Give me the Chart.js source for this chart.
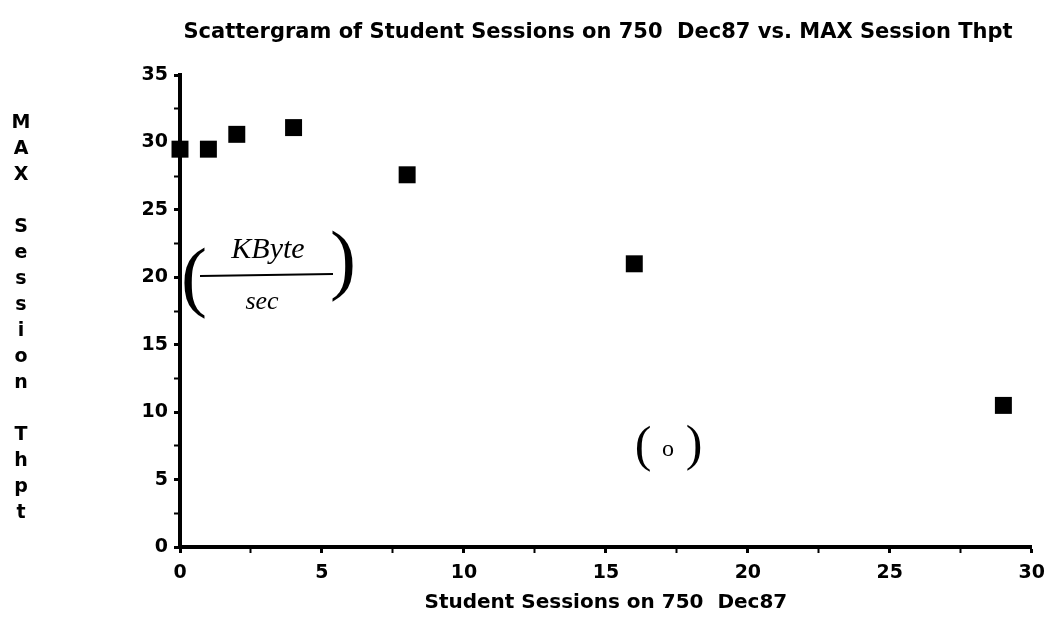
<!DOCTYPE html>
<html>
<head>
<meta charset="utf-8">
<script src="https://cdn.jsdelivr.net/npm/chart.js"></script>
<style>
  html, body { margin: 0; padding: 0; background: #fff; }
  #wrap { width: 1054px; height: 619px; position: relative; }
</style>
</head>
<body>
<div id="wrap"><canvas id="chartScatter"></canvas></div>
<script>
// ===== dados
const sessions = [0, 1, 2, 4, 8, 16, 29];                 // Student Sessions on 750 Dec87
const thpt     = [29.5, 29.5, 30.6, 31.1, 27.6, 21.0, 10.5]; // MAX Session Thpt (KByte/sec)
const xRange   = [0, 30];
const yRange   = [0, 35];

const titleText  = 'Scattergram of Student Sessions on 750  Dec87 vs. MAX Session Thpt';
const xTitleText = 'Student Sessions on 750  Dec87';
const yTitleText = 'MAX Session Thpt';

const FONT = '"DejaVu Sans", sans-serif';

// textos desenhados à mão / título fora do layout padrão
const paperText = {
  id: 'paperText',
  afterDraw(chart) {
    const c = chart.ctx;
    c.save();
    c.fillStyle = '#000';
    c.strokeStyle = '#000';
    c.textAlign = 'center';
    c.textBaseline = 'middle';

    c.font = 'bold 21px ' + FONT;
    c.fillText(titleText, 598, 33);

    // título do eixo y, uma letra por linha
    c.font = 'bold 19px ' + FONT;
    yTitleText.split('').forEach((ch, i) => c.fillText(ch, 21, 123 + i * 26));

    // anotação manuscrita (KByte / sec)
    c.font = 'italic 30px "Liberation Serif", serif';
    c.fillText('KByte', 268, 250);
    c.font = 'italic 26px "Liberation Serif", serif';
    c.fillText('sec', 262, 302);
    c.lineWidth = 2;
    c.beginPath();
    c.moveTo(200, 276);
    c.lineTo(333, 274);
    c.stroke();
    c.font = '78px "Liberation Serif", serif';
    c.fillText('(', 194, 282);
    c.fillText(')', 343, 265);

    // anotação (o)
    c.font = '50px "Liberation Serif", serif';
    c.fillText('(', 643, 448);
    c.fillText(')', 694, 447);
    c.font = '24px "Liberation Serif", serif';
    c.fillText('o', 668, 450);

    c.restore();
  }
};

const tickFont = { family: FONT, size: 19, weight: 'bold', lineHeight: 1.2 };
const tickWidth = (ctx) => (ctx.tick && ctx.tick.value % 5 === 0 ? 3 : 2);
const majorOnly = (v) => (v % 5 === 0 ? v : '');

new Chart(document.getElementById('chartScatter'), {
  type: 'scatter',
  data: {
    datasets: [{
      data: sessions.map((x, i) => ({ x, y: thpt[i] })),
      pointStyle: 'rect',
      radius: 12,
      hoverRadius: 12,
      backgroundColor: '#000',
      borderColor: '#000',
      borderWidth: 0,
      clip: false
    }]
  },
  options: {
    responsive: true,
    maintainAspectRatio: false,
    animation: false,
    layout: { padding: { top: 75, left: 142, right: 22, bottom: 4 } },
    plugins: {
      legend: { display: false },
      tooltip: { enabled: false }
    },
    scales: {
      x: {
        type: 'linear',
        min: xRange[0],
        max: xRange[1],
        afterFit(scale) { scale.height = 68; },
        ticks: { stepSize: 2.5, callback: majorOnly, color: '#000', font: tickFont, padding: 9, maxRotation: 0, autoSkip: false },
        grid: { drawOnChartArea: false, tickLength: 6, tickColor: '#000', tickWidth },
        border: { color: '#000', width: 4 },
        title: {
          display: true,
          text: xTitleText,
          color: '#000',
          font: { family: FONT, size: 20, weight: 'bold', lineHeight: 1.2 },
          padding: { top: 0, bottom: 0 }
        }
      },
      y: {
        min: yRange[0],
        max: yRange[1],
        afterFit(scale) { scale.width = 38; },
        ticks: { stepSize: 2.5, callback: majorOnly, color: '#000', font: tickFont, padding: 6, autoSkip: false },
        grid: { drawOnChartArea: false, tickLength: 6, tickColor: '#000', tickWidth },
        border: { color: '#000', width: 4 }
      }
    }
  },
  plugins: [paperText]
});
</script>
</body>
</html>
